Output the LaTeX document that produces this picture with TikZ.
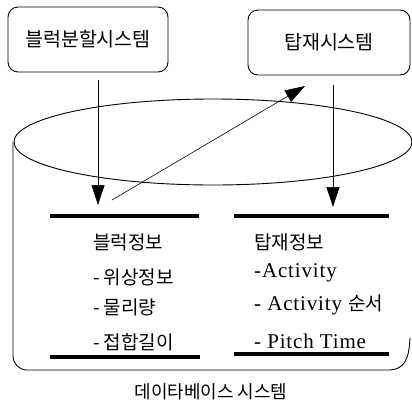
\documentclass[tikz,border=0pt]{standalone}
\usepackage{fontspec}
\setmainfont{Liberation Serif}
\newfontfamily\kr{Noto Sans CJK KR}
\newfontfamily\lat[LetterSpace=4]{Liberation Serif}
\usetikzlibrary{arrows.meta}
\begin{document}
\begin{tikzpicture}[x=1pt,y=-1pt,
  sysbox/.style={draw, line width=0.9pt, rounded corners=10pt, inner sep=0pt,
    font=\kr\fontsize{19.5}{19.5}\selectfont},
  thickbar/.style={line width=4pt},
  conn/.style={line width=0.6pt, -{Triangle[length=20pt,width=13pt]}},
  item/.style={anchor=west, inner sep=0pt, font=\lat\fontsize{21}{21}\selectfont},
  kitem/.style={anchor=west, inner sep=0pt, font=\kr\fontsize{19}{19}\selectfont},
  outline/.style={line width=0.9pt}]
\useasboundingbox (0,0) rectangle (412,405);
% system boxes
\node[sysbox, minimum width=160pt, minimum height=65pt] (b1) at (88,39.5) {블럭분할시스템};
\node[sysbox, minimum width=162pt, minimum height=65pt] (b2) at (329,42.5) {탑재시스템};
% database cylinder
\draw[outline] (213,142) ellipse [x radius=199, y radius=43];
\draw[outline, rounded corners=14pt] (13,142) -- (13,370) -- (390,370);
\draw[outline] (390,370) .. controls (404,369) and (409,360) .. (410,338);
% bars
\draw[thickbar] (50,216) -- (199,216);
\draw[thickbar] (50,357) -- (200,357);
\draw[thickbar] (234,216) -- (389,216);
\draw[thickbar] (234,354) -- (389,354);
% arrow coordinates
\coordinate (t1) at (98,205);
\coordinate (t2) at (333,207);
\coordinate (d1) at (112,200);
\coordinate (d2) at (305,86);
\draw[conn, shorten <=8pt] (b1.south -| t1) -- (t1);
\draw[conn, shorten <=10pt] (b2.south -| t2) -- (t2);
\draw[conn] (d1) -- (d2);
% block info
\node[kitem] (l0) at (93,242) {블럭정보};
\node[kitem] (l1) at (93,277) {-\hspace{4pt}위상정보};
\node[kitem] (l2) at (93,307) {-\hspace{4pt}물리량};
\node[kitem] (l3) at (93,342) {-\hspace{4pt}접합길이};
% loading info
\node[kitem] (r0) at (254,242) {탑재정보};
\node[item] (r1) at (254,273) {-Activity};
\node[item] (r2) at (254,305) {- Activity {\kr\fontsize{19}{19}\selectfont 순서}};
\node[item] (r3) at (254,341) {- Pitch Time};
% caption
\node[inner sep=0pt, font=\kr\fontsize{18}{18}\selectfont] (cap) at (211,392) {데이타베이스 시스템};
\end{tikzpicture}
\end{document}
